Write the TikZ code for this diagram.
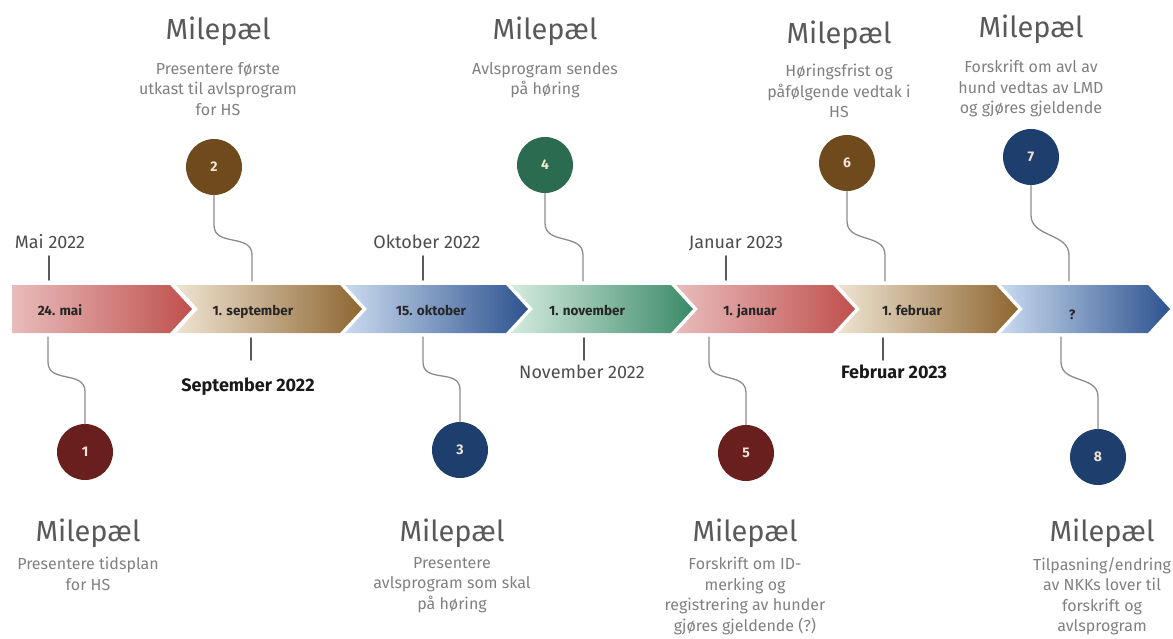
\documentclass[tikz,border=0pt]{standalone}
\usepackage{fontspec}
\setmainfont{Fira Sans}
\usetikzlibrary{calc,positioning}
\definecolor{rodlys}{HTML}{E8BCBB}
\definecolor{rod}{HTML}{C0504D}
\definecolor{brunlys}{HTML}{EFE4D2}
\definecolor{brun}{HTML}{8E6631}
\definecolor{blalys}{HTML}{CADAEF}
\definecolor{bla}{HTML}{2D5390}
\definecolor{gronnlys}{HTML}{D4EBE0}
\definecolor{gronn}{HTML}{3A8A67}
\definecolor{rodmork}{HTML}{6A1F1F}
\definecolor{brunmork}{HTML}{6F4A1C}
\definecolor{blamork}{HTML}{1E3F6D}
\definecolor{gronnmork}{HTML}{2B6B50}
\definecolor{tall}{HTML}{F0E4D4}
\tikzstyle{milepael} = [font=\fontsize{29}{32}\selectfont, text=black!65, anchor=base, inner sep=0pt]
\tikzstyle{beskrivelse} = [font=\fontsize{16}{20.5}\selectfont, text=black!50, align=center, anchor=north, inner sep=0pt]
\tikzstyle{dato} = [font=\fontsize{18}{20}\selectfont, text=black!70, anchor=base, inner sep=0pt]
\tikzstyle{datofet} = [font=\fontsize{18}{20}\selectfont\bfseries, text=black!90, anchor=base, inner sep=0pt]
\tikzstyle{pil} = [font=\fontsize{13.5}{15}\selectfont\bfseries, text=black!85, anchor=base, inner sep=0pt]
\tikzstyle{punkt} = [circle, minimum size=56pt, inner sep=0pt, text=tall, font=\fontsize{14}{16}\selectfont\bfseries]
\tikzstyle{merke} = [draw=black!65, line width=1.6pt]
\tikzstyle{kobling} = [draw=black!45, line width=1.3pt]

\begin{document}
\begin{tikzpicture}[x=1pt, y=-1pt, line cap=round, line join=round]
		% koordinater i piksler, y nedover
		\useasboundingbox (0,0) rectangle (1173,639);
		
		% parametre for tidslinjen
		\def\ytop{285} % overkant
		\def\ybot{333} % underkant
		\def\ymid{309} % midtlinje
		\def\dpil{22}  % dybde paa pilspissen
		
		% ---- 1. Tidslinje med piler ----
		\shade[left color=rodlys, right color=rod]
		(12,\ytop) -- (170,\ytop) -- (170+\dpil,\ymid) -- (170,\ybot) -- (12,\ybot) -- cycle;
		\foreach \l/\r/\lys/\mork in {176/340/brunlys/brun, 345/506/blalys/bla,
			511/671/gronnlys/gronn, 676/833/rodlys/rod, 838/996/brunlys/brun, 1001/1148/blalys/bla}
		\shade[left color=\lys, right color=\mork]
		(\l,\ytop) -- (\r,\ytop) -- (\r+\dpil,\ymid) -- (\r,\ybot) -- (\l,\ybot) -- (\l+\dpil,\ymid) -- cycle;
		
		\node[pil] (l1) at (60,315) {24. mai};
		\node[pil] (l2) at (253,315) {1. september};
		\node[pil] (l3) at (431,315) {15. oktober};
		\node[pil] (l4) at (587,315) {1. november};
		\node[pil] (l5) at (750,315) {1. januar};
		\node[pil] (l6) at (912,315) {1. februar};
		\node[pil] (l7) at (1072,319) {?};
		
		% ---- 2. Datoer over og under ----
		\coordinate (tmai) at (49,280);
		\coordinate (tokt) at (423,280);
		\coordinate (tjan) at (726,280);
		\coordinate (tsep) at (251,338);
		\coordinate (tnov) at (584,338);
		\coordinate (tfeb) at (883,338);
		\draw[merke] (tmai) -- ++(0,-24);
		\draw[merke] (tokt) -- ++(0,-24);
		\draw[merke] (tjan) -- ++(0,-24);
		\draw[merke] (tsep) -- ++(0,22);
		\draw[merke] (tnov) -- ++(0,22);
		\draw[merke] (tfeb) -- ++(0,22);
		
		\node[dato] (mai) at (50,249) {Mai 2022};
		\node[dato] (okt) at (427,249) {Oktober 2022};
		\node[dato] (jan) at (736,249) {Januar 2023};
		\node[datofet] (sep) at (248,391) {September 2022};
		\node[dato] (nov) at (582,378) {November 2022};
		\node[datofet] (feb) at (894,378) {Februar 2023};
		
		% ---- 3. Milepaeler over linjen ----
		\node[punkt, fill=brunmork] (c2) at (214,167) {2};
		\node[punkt, fill=gronnmork] (c4) at (545,165) {4};
		\node[punkt, fill=brunmork] (c6) at (847,163) {6};
		\node[punkt, fill=blamork] (c7) at (1031,157) {7};
		
		\node[milepael] (m2) at (218,40) {Milepæl};
		\node[beskrivelse] (d2) at (218,62) {Presentere første\\utkast til avlsprogram\\for HS};
		\node[milepael] (m4) at (545,40) {Milepæl};
		\node[beskrivelse] (d4) at (545,62) {Avlsprogram sendes\\på høring};
		\node[milepael] (m6) at (839,44) {Milepæl};
		\node[beskrivelse] (d6) at (839,64) {Høringsfrist og\\påfølgende vedtak i\\HS};
		\node[milepael] (m7) at (1031,38) {Milepæl};
		\node[beskrivelse] (d7) at (1031,60) {Forskrift om avl av\\hund vedtas av LMD\\og gjøres gjeldende};
		
		\coordinate (b2) at (252,281);
		\coordinate (b4) at (583,281);
		\coordinate (b6) at (885,281);
		\coordinate (b7) at (1069,281);
		\foreach \c/\b in {c2/b2, c4/b4, c6/b6, c7/b7}
		\draw[kobling] (\c.south) -- ++(0,30) .. controls +(0,22) and +(0,-22) .. ($(\b)+(0,-26)$) -- (\b);
		
		% ---- 4. Milepaeler under linjen ----
		\node[punkt, fill=rodmork] (c1) at (85,452) {1};
		\node[punkt, fill=blamork] (c3) at (460,450) {3};
		\node[punkt, fill=rodmork] (c5) at (746,453) {5};
		\node[punkt, fill=blamork] (c8) at (1098,457) {8};
		
		\node[milepael] (m1) at (88,541) {Milepæl};
		\node[beskrivelse] (d1) at (88,557) {Presentere tidsplan\\for HS};
		\node[milepael] (m3) at (452,541) {Milepæl};
		\node[beskrivelse] (d3) at (452,557) {Presentere\\avlsprogram som skal\\på høring};
		\node[milepael] (m5) at (745,541) {Milepæl};
		\node[beskrivelse] (d5) at (745,557) {Forskrift om ID-\\merking og\\registrering av hunder\\gjøres gjeldende (?)};
		\node[milepael] (m8) at (1102,541) {Milepæl};
		\node[beskrivelse] (d8) at (1102,557) {Tilpasning/endring\\av NKKs lover til\\forskrift og\\avlsprogram};
		
		\coordinate (b1) at (48,337);
		\coordinate (b3) at (423,337);
		\coordinate (b5) at (709,337);
		\coordinate (b8) at (1061,337);
		\foreach \b/\c in {b1/c1, b3/c3, b5/c5, b8/c8}
		\draw[kobling] (\b) -- ++(0,25) .. controls +(0,22) and +(0,-22) .. ($(\c.north)+(0,-32)$) -- (\c.north);
		
	\end{tikzpicture}
\end{document}
